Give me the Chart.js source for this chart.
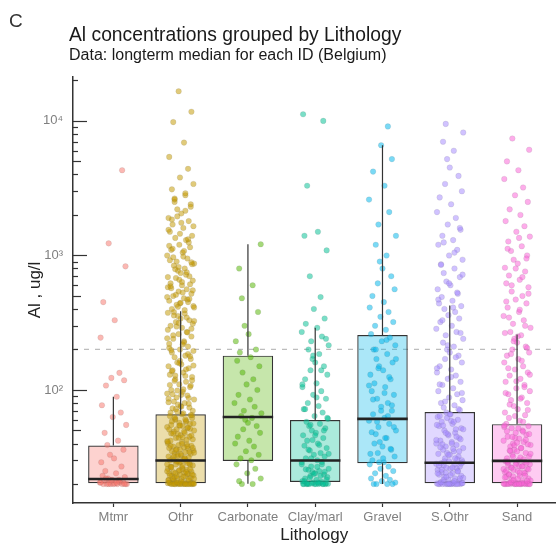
<!DOCTYPE html>
<html>
<head>
<meta charset="utf-8">
<script src="https://cdn.jsdelivr.net/npm/chart.js@4.4.1/dist/chart.umd.min.js"></script>
<style>
  body { margin: 0; background: #fff; font-family: "Liberation Sans", Arial, sans-serif; }
  #wrap { position: relative; width: 560px; height: 546px; }
  #wrap canvas { position: absolute; left: 0; top: 0; }
  .txt { position: absolute; white-space: nowrap; line-height: 1; }
  #tag { left: 9px; top: 11px; font-size: 19px; color: #333; }
  #title { left: 69px; top: 25px; font-size: 19.3px; color: #1a1a1a; }
  #sub { left: 69px; top: 47px; font-size: 16px; color: #1a1a1a; }
</style>
</head>
<body>
<div id="wrap">
  <canvas id="chart" width="560" height="546"></canvas>
  <div class="txt" id="tag">C</div>
  <div class="txt" id="title">Al concentrations grouped by Lithology</div>
  <div class="txt" id="sub">Data: longterm median for each ID (Belgium)</div>
</div>
<script>
// categories and box statistics (ug/l)
const CATEGORIES = ['Mtmr', 'Othr', 'Carbonate', 'Clay/marl', 'Gravel', 'S.Othr', 'Sand'];
const WHISKER_LOW = [20.3, 20.3, 20.1, 20.7, 20, 20.3, 20.3];
const Q1 = [20.3, 20.3, 29.7, 20.7, 28.5, 20.3, 20.3];
const MEDIAN = [21.8, 29.9, 63, 29.9, 61, 28.8, 29.7];
const Q3 = [38.6, 66, 180, 59.7, 256, 68.5, 55.7];
const WHISKER_HIGH = [89, 384, 1210, 290, 6600, 425, 258];
const GUIDE = 200;

// y axis ticks / labels
const Y_TICKS = [20, 30, 40, 50, 60, 70, 80, 90, 100, 200, 300, 400, 500, 600, 700, 800, 900,
  1000, 2000, 3000, 4000, 5000, 6000, 7000, 8000, 9000, 10000, 20000];
const Y_LABELS = { 100: '10²', 1000: '10³', 10000: '10⁴' };

// site values per lithology (estimated from the jittered points)
const MTMR = [4300, 1230, 830, 450, 330, 245, 134, 123, 118, 108, 89, 77, 68, 63, 55, 48, 42, 39, 36, 33,
  31, 29, 27, 25, 24, 23, 22.5, 22, 21.5, 21.5, 21, 21, 21, 20.5, 20.5, 20.5, 20, 20, 20, 20, 20, 20, 20, 20,
  20, 20.2, 20.5, 21, 21.3, 20.1, 22, 20.4];
const OTHR = [16600, 11700, 9800, 6900, 5400, 4400, 3800, 3400, 3100, 2800, 2600, 2400, 2200, 2050, 1900,
  1800, 1700, 1600, 1500, 1400, 1350, 1300, 1200, 1150, 1100, 1050, 1000, 950, 900, 870, 840, 800, 770,
  740, 700, 680, 650, 620, 600, 580, 560, 540, 520, 500, 480, 460, 450, 440, 420, 400,
  2900, 2500, 2300, 1950, 1750, 1550, 1250, 1120, 980, 920, 860, 790, 720, 660, 610, 570, 530, 490, 470, 430, 410,
  380, 370, 355, 340, 330, 320, 310, 300, 290, 280, 270, 260, 250, 240, 230, 220, 210, 200, 195, 190, 180,
  175, 170, 160, 155, 150, 145, 140, 135, 130, 125, 120, 115, 110, 105, 100, 97, 94, 91, 88, 85, 82, 80,
  78, 76, 74, 72, 70, 68, 66,
  375, 345, 315, 285, 255, 225, 205, 185, 165, 152, 138, 127, 117, 108, 99, 92, 86, 79, 73, 67,
  64, 62, 60, 58, 57, 56, 55, 54, 53, 52, 51, 50, 49, 48, 47, 46, 45, 44, 43, 42, 41, 40, 39.5, 39, 38.5,
  38, 37.5, 37, 36.5, 36, 35.5, 35, 34.5, 34, 33.5, 33, 32.5, 32, 31.5, 31, 30.5, 30,
  65, 61, 59, 54.5, 51.5, 47.5, 44.5, 41.5, 38.2, 36.2, 34.2, 32.2, 30.8,
  29.5, 29, 28.5, 28, 27.5, 27, 26.5, 26, 25.5, 25, 24.8, 24.5, 24.2, 24, 23.7, 23.5, 23.2, 23, 22.8, 22.5,
  22.2, 22, 21.8, 21.5, 21.2, 21, 20.8, 20.5, 20.3, 20,
  29.8, 28.8, 27.8, 26.8, 25.8, 24.9, 23.9, 22.9, 21.9, 21.1,
  20.1, 20, 20.2, 20, 20.4, 20, 20.1, 20, 20.3, 20, 20.2, 20, 20.1, 20, 20.4, 20, 20, 20.2, 20, 20.1,
  20, 20.2, 20.5, 20.9, 21.3, 21.7, 22.1, 22.6, 23.1, 23.6, 24.1, 24.7, 25.3, 25.9, 26.6, 27.3, 28, 28.7, 29.4, 20.1,
  30.2, 31.2, 32.3, 33.4, 34.6, 35.8, 37.1, 38.4, 39.8, 41.2, 42.7, 44.2, 45.8, 47.4, 49.1, 50.8, 52.6, 54.5,
  56.4, 58.4, 60.5, 62.7, 65,
  69, 75, 81, 87, 93, 101, 109, 118, 128, 142, 158, 178, 198, 218, 242, 268, 296, 326, 358, 392,
  415, 445, 475, 510, 550, 590, 635, 690, 750, 820, 890, 970, 1080, 1180, 1320, 1450, 1650, 1850, 2150, 2650];
const CARBONATE = [1210, 800, 600, 480, 380, 300, 260, 230, 200, 190, 175, 165, 150, 135, 120, 110, 100, 92,
  85, 80, 75, 70, 67, 64, 62, 60, 57, 54, 51, 48, 45, 42, 40, 38, 35, 33, 31, 30, 28, 26, 24, 22, 21, 20, 20];
const CLAY = [11200, 10000, 3300, 1500, 1400, 1090, 700, 490, 400, 340, 310,
  290, 270, 250, 230, 215, 200, 185, 170, 160, 150, 140, 130, 120, 112, 105, 98, 92, 86, 80, 76, 72, 68, 64, 61,
  58, 56, 54, 52, 50, 48, 46, 44, 42, 40, 38.5, 37, 35.5, 34, 33, 32, 31, 30,
  29, 28, 27, 26, 25.5, 25, 24.5, 24, 23.5, 23, 22.5, 22, 21.5, 21, 20.8, 20.5, 20.2, 20, 20, 20, 20, 20,
  20.1, 20, 20.3, 20, 20, 20.2, 20, 20,
  20, 20.2, 20.5, 21, 21.6, 22.3, 23, 23.8, 24.7, 25.7, 26.8, 28, 29.2, 31, 33.5, 36, 39, 42.5, 46, 50, 55,
  62, 72, 88, 110, 140, 180, 240];
const GRAVEL = [9100, 6600, 5200, 4200, 3300, 2600, 2100, 1700, 1400, 1200, 1000, 900, 800, 700, 620, 560, 500,
  450, 410, 380, 350, 320, 300, 280, 260, 245, 230, 215, 200, 185, 170, 160, 150, 140, 130, 120, 112, 105, 98,
  92, 86, 80, 75, 70, 66, 62, 59, 56, 53, 50, 47, 44, 41, 38, 36, 34, 32, 30, 29, 28, 27, 26, 25, 24, 23, 22,
  21.5, 21, 20.5, 20, 20, 20, 20,
  29, 31, 33.5, 36.5, 40, 44, 48.5, 53, 58, 64, 70, 77, 85, 95, 108, 125, 145, 170, 200, 235];
const SOTHR = [9500, 8200, 7000, 6000, 5200, 4500, 3900, 3400, 3000, 2700, 2400, 2100, 1900, 1700, 1550, 1400,
  1300, 1200, 1100, 1000, 930, 860, 800, 740, 690, 640, 600, 560, 520, 490, 460, 440,
  420, 400, 380, 360, 340, 320, 300, 285, 270, 255, 240, 225, 210, 200, 190, 180, 170, 160, 150, 142, 135,
  128, 121, 115, 109, 103, 98, 93, 88, 84, 80, 77, 74, 71, 68,
  66, 63, 60, 58, 56, 54, 52, 50, 48, 46, 44, 42, 41, 40, 39, 38, 37, 36, 35, 34, 33, 32, 31, 30,
  64, 59, 55, 51, 47, 43, 39.5, 36.5, 33.5, 30.5,
  29.5, 29, 28.5, 28, 27.5, 27, 26.5, 26, 25.5, 25, 24.5, 24, 23.5, 23, 22.5, 22, 21.5, 21, 20.5, 20.2,
  28.2, 26.2, 24.2, 22.2, 20.7,
  20, 20, 20, 20.1, 20, 20.3, 20, 20, 20.2, 20, 20.1, 20, 20, 20.4, 20,
  20, 20.1, 20.3, 20.6, 21, 21.5, 22, 22.6, 23.3, 24, 24.8, 25.6, 26.5, 27.4, 28.4, 29.4,
  31, 33, 35, 37.5, 40, 42.5, 45, 48, 51, 54.5, 58, 62, 66,
  72, 82, 95, 110, 125, 145, 175, 215, 265, 330, 410,
  470, 530, 620, 720, 850, 1050, 1250, 1600];
const SAND = [7400, 6100, 5000, 4300, 3700, 3200, 2800, 2500, 2200, 2000, 1800, 1650, 1500, 1380, 1270, 1170,
  1080, 1000, 930, 870, 810, 760, 710, 660, 620, 580, 540, 500, 470, 440, 410, 380, 355, 330, 310, 290, 270,
  255, 240, 225, 210, 200, 190, 180, 170, 160, 150, 142, 135, 128, 121, 115, 109, 103, 98, 93, 88, 84, 80,
  76, 72, 68, 65, 62, 59, 56,
  54, 52, 50, 48, 46.5, 45, 43.5, 42, 41, 40, 39, 38, 37, 36, 35, 34, 33, 32, 31, 30,
  53, 49, 44, 39.5, 35.5, 31.5,
  29.5, 29, 28.5, 28, 27.5, 27, 26.5, 26, 25.5, 25, 24.5, 24, 23.5, 23, 22.5, 22, 21.5, 21, 20.5, 20.2,
  28.8, 27.2, 25.8, 24.2, 22.8, 21.2,
  20, 20, 20, 20.1, 20, 20.3, 20, 20, 20.2, 20, 20.1, 20, 20, 20.4, 20, 20, 20.2, 20,
  20, 20.1, 20.3, 20.6, 21, 21.4, 21.9, 22.4, 23, 23.6, 24.3, 25, 25.7, 26.4, 27.1, 27.9, 28.6, 29.4, 20, 20.2,
  30.5, 32, 33.5, 35.2, 37, 38.8, 40.6, 42.6, 44.8, 47, 49.4, 51.8, 54.4,
  58, 64, 71, 78, 86, 95, 105, 116, 130, 145, 165, 185, 205, 230, 250,
  265, 300, 345, 395, 455, 520, 600, 690, 800, 950, 1120, 1350];
const GROUPS = [MTMR, OTHR, CARBONATE, CLAY, GRAVEL, SOTHR, SAND];

// horizontal jitter, in category units
const JITTER = [0.13, -0.07, 0.18, -0.15, 0.02, -0.19, 0.09, -0.03, 0.16, -0.11, 0.05, -0.17, 0.11, -0.01,
  0.19, -0.13, 0.07, -0.09, 0.15, -0.05, 0.01, -0.18, 0.12, -0.12, 0.04, -0.16, 0.17, -0.08, 0.08, -0.02,
  0.14, -0.14, 0.03, -0.2, 0.1, -0.06, 0.2, -0.1, 0.06, -0.04, 0.0];

const COLORS = ['#F8766D', '#C49A00', '#53B400', '#00C094', '#00B6EB', '#A58AFF', '#FB61D7'];
const BOX_HALF = 0.375;
const FONT = '"Liberation Sans", Arial, sans-serif';

function rgba(hex, a) {
  const n = parseInt(hex.slice(1), 16);
  return `rgba(${(n >> 16) & 255},${(n >> 8) & 255},${n & 255},${a})`;
}

const pointSets = GROUPS.map((vals, i) => ({
  type: 'scatter',
  order: 5,
  data: vals.map((v, k) => ({ x: i + 1 + JITTER[(k + i * 7) % JITTER.length], y: v })),
  backgroundColor: rgba(COLORS[i], 0.52),
  borderColor: rgba('#666666', 0.2),
  borderWidth: 0.6,
  pointRadius: 2.8
}));

const whiskerData = [];
const medianData = [];
CATEGORIES.forEach((c, i) => {
  whiskerData.push({ x: i + 1, y: WHISKER_LOW[i] }, { x: i + 1, y: Q1[i] }, { x: i + 1, y: null },
    { x: i + 1, y: Q3[i] }, { x: i + 1, y: WHISKER_HIGH[i] }, { x: i + 1, y: null });
  medianData.push({ x: i + 1 - BOX_HALF, y: MEDIAN[i] }, { x: i + 1 + BOX_HALF, y: MEDIAN[i] }, { x: i + 1, y: null });
});

// y tick marks point into the panel, with longer marks at decades and at 5
const innerTicks = {
  id: 'innerTicks',
  afterDatasetsDraw(chart) {
    const ys = chart.scales.y;
    const x0 = chart.chartArea.left;
    const ctx = chart.ctx;
    ctx.save();
    ctx.strokeStyle = '#333';
    ctx.lineWidth = 1.2;
    Y_TICKS.forEach(v => {
      const p = Math.round(ys.getPixelForValue(v)) + 0.5;
      const m = Math.round(v / Math.pow(10, Math.floor(Math.log10(v) + 1e-9)));
      const len = m === 1 ? 14 : (m === 5 ? 8 : 5);
      ctx.beginPath();
      ctx.moveTo(x0, p);
      ctx.lineTo(x0 + len, p);
      ctx.stroke();
    });
    ctx.restore();
  }
};

new Chart(document.getElementById('chart'), {
  type: 'scatter',
  data: {
    datasets: [
      {
        type: 'line',
        order: 8,
        data: [{ x: 0.4, y: GUIDE }, { x: 7.57, y: GUIDE }],
        borderColor: '#bdbdbd',
        borderWidth: 1.2,
        borderDash: [5, 6],
        pointRadius: 0
      },
      {
        type: 'bar',
        order: 6,
        data: CATEGORIES.map((c, i) => ({ x: i + 1, y: [Q1[i], Q3[i]] })),
        backgroundColor: COLORS.map(c => rgba(c, 0.33)),
        borderColor: '#333',
        borderWidth: 1.2,
        borderSkipped: false,
        categoryPercentage: 1,
        barPercentage: 2 * BOX_HALF,
        grouped: false
      },
      ...pointSets,
      {
        type: 'line',
        order: 2,
        data: whiskerData,
        borderColor: '#333',
        borderWidth: 1.2,
        pointRadius: 0,
        spanGaps: false
      },
      {
        type: 'line',
        order: 1,
        data: medianData,
        borderColor: '#222',
        borderWidth: 2.6,
        pointRadius: 0,
        spanGaps: false
      }
    ]
  },
  options: {
    responsive: false,
    animation: false,
    events: [],
    layout: { padding: { top: 77, left: 0, right: 0, bottom: 0 } },
    plugins: { legend: { display: false }, tooltip: { enabled: false } },
    scales: {
      x: {
        type: 'linear',
        min: 0.4,
        max: 7.57,
        offset: false,
        afterBuildTicks: s => { s.ticks = CATEGORIES.map((c, i) => ({ value: i + 1 })); },
        afterFit: s => { s.height = 43; s.paddingLeft = 0; s.paddingRight = 0; },
        grid: { display: true, offset: false, drawOnChartArea: false, tickLength: 4, tickColor: '#333', tickWidth: 1.2 },
        border: { display: true, color: '#333', width: 1.5 },
        ticks: {
          autoSkip: false,
          maxRotation: 0,
          padding: 3,
          color: '#7f7f7f',
          font: { family: FONT, size: 13 },
          callback: v => CATEGORIES[v - 1]
        },
        title: {
          display: true,
          text: 'Lithology',
          color: '#222',
          padding: { top: 0, bottom: 0 },
          font: { family: FONT, size: 17 }
        }
      },
      y: {
        type: 'logarithmic',
        min: 14.45,
        max: 21200,
        afterBuildTicks: s => { s.ticks = Y_TICKS.map(v => ({ value: v })); },
        afterFit: s => { s.width = 73; s.paddingTop = 0; s.paddingBottom = 0; },
        grid: { display: false },
        border: { display: true, color: '#333', width: 1.5 },
        ticks: {
          autoSkip: false,
          padding: 2,
          color: '#7f7f7f',
          font: { family: FONT, size: 13 },
          callback: v => Y_LABELS[v] || ''
        },
        title: {
          display: true,
          text: 'Al , ug/l',
          color: '#222',
          padding: { top: 25, bottom: 0 },
          font: { family: FONT, size: 17 }
        }
      }
    }
  },
  plugins: [innerTicks]
});
</script>
</body>
</html>
